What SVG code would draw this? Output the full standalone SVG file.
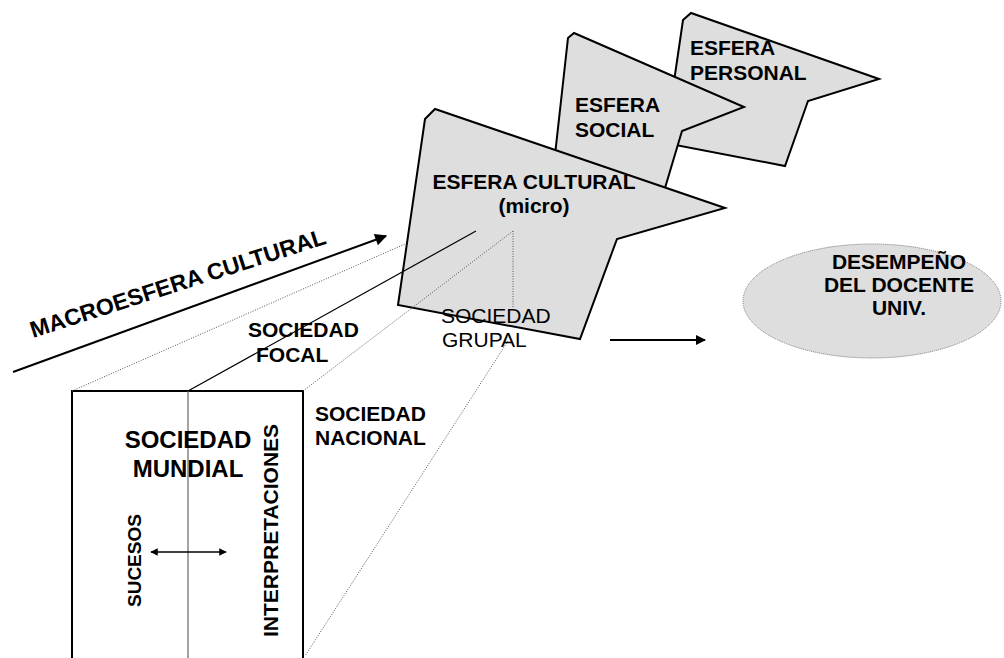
<svg xmlns="http://www.w3.org/2000/svg" width="1004" height="658" viewBox="0 0 1004 658">
  <style>
    .sphere { fill: #dedede; stroke: #000; stroke-width: 2; stroke-linejoin: miter; }
    .b { font-family: "Liberation Sans", Arial, sans-serif; font-weight: bold; font-size: 21px; fill: #000; }
    .r { font-family: "Liberation Sans", Arial, sans-serif; font-size: 21px; fill: #000; }
    .big { font-size: 24px; }
    .macro { font-size: 23px; }
    .small { font-size: 19px; }
    .dot { fill: none; stroke: #555; stroke-width: 1; stroke-dasharray: 1 1.5; }
    .thin { fill: none; stroke: #000; stroke-width: 1.2; }
    .arrow { fill: none; stroke: #000; stroke-width: 2; }
  </style>
  <defs>
    <marker id="head" viewBox="0 0 10 10" refX="9" refY="5" markerWidth="6" markerHeight="5" orient="auto-start-reverse" markerUnits="strokeWidth">
      <path d="M0,0 L10,5 L0,10 z" fill="#000"/>
    </marker>
    <marker id="headBig" viewBox="0 0 10 10" refX="9" refY="5" markerWidth="8" markerHeight="6" orient="auto" markerUnits="strokeWidth">
      <path d="M0,0 L10,5 L0,10 z" fill="#000"/>
    </marker>
  </defs>

  <rect width="1004" height="658" fill="#fff"/>

  <!-- spheres, back to front -->
  <g id="esfera-personal">
    <polygon class="sphere" points="683,20 691,13 879,79 808,101 785,166 665,143"/>
  </g>
  <g id="esfera-social">
    <polygon class="sphere" points="568,38 574,33 744,107 682,131 659,208 552,182"/>
  </g>
  <g id="esfera-cultural">
    <polygon class="sphere" points="425,119 435,109 725,208 617,239 580,339 398,305"/>
  </g>

  <g id="desempeno">
    <ellipse cx="872" cy="301" rx="129" ry="57" fill="#dedede" stroke="#777" stroke-width="1" stroke-dasharray="1 1"/>
  </g>

  <g id="sociedad-mundial">
    <rect x="72" y="391" width="231" height="290" fill="none" stroke="#000" stroke-width="2"/>
    <line x1="188" y1="391" x2="188" y2="658" stroke="#666" stroke-width="1.2"/>
  </g>

  <!-- connectors -->
  <g id="connectors">
    <line class="dot" x1="72" y1="391" x2="405" y2="244"/>
    <line class="dot" x1="303" y1="391" x2="513" y2="231"/>
    <line class="dot" x1="513" y1="231" x2="513" y2="308"/>
    <line class="dot" x1="508" y1="341" x2="305" y2="656"/>
    <line class="thin" x1="188" y1="391" x2="476" y2="231"/>
    <line class="arrow" x1="13" y1="372" x2="386" y2="236" marker-end="url(#headBig)"/>
    <line class="arrow" x1="610" y1="340" x2="705" y2="340" marker-end="url(#head)"/>
    <line x1="151" y1="552" x2="226" y2="552" stroke="#000" stroke-width="1.5" marker-start="url(#head)" marker-end="url(#head)"/>
  </g>

  <!-- labels -->
  <g id="labels">
    <text class="b" x="690" y="55">ESFERA</text>
    <text class="b" x="690" y="80">PERSONAL</text>
    <text class="b" x="575" y="112">ESFERA</text>
    <text class="b" x="575" y="137">SOCIAL</text>
    <text class="b" x="534" y="189" text-anchor="middle">ESFERA CULTURAL</text>
    <text class="b" x="534" y="213" text-anchor="middle">(micro)</text>
    <text class="b" x="899" y="269" text-anchor="middle">DESEMPEÑO</text>
    <text class="b" x="899" y="292" text-anchor="middle">DEL DOCENTE</text>
    <text class="b" x="899" y="315" text-anchor="middle">UNIV.</text>
    <text class="b macro" transform="translate(33,338) rotate(-17.8)">MACROESFERA CULTURAL</text>
    <text class="b" x="248" y="337">SOCIEDAD</text>
    <text class="b" x="256" y="362">FOCAL</text>
    <text class="r" x="441" y="323">SOCIEDAD</text>
    <text class="r" x="442" y="347">GRUPAL</text>
    <text class="b" x="315" y="421">SOCIEDAD</text>
    <text class="b" x="315" y="445">NACIONAL</text>
    <text class="b big" x="188" y="448" text-anchor="middle">SOCIEDAD</text>
    <text class="b big" x="188" y="477" text-anchor="middle">MUNDIAL</text>
    <text class="b small" transform="translate(141,607) rotate(-90)">SUCESOS</text>
    <text class="b" transform="translate(278,637) rotate(-90)">INTERPRETACIONES</text>
  </g>
</svg>
